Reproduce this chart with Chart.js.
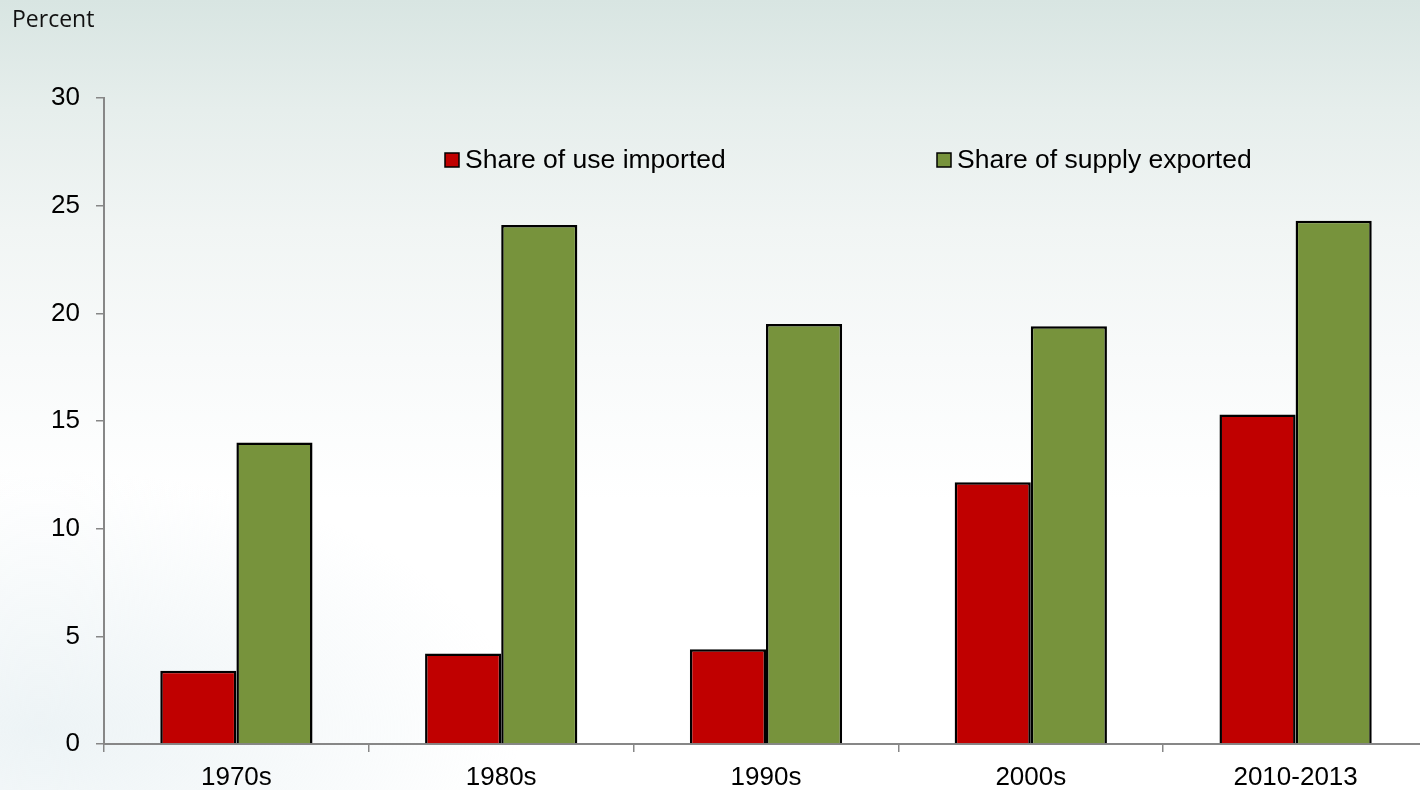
<!DOCTYPE html>
<html>
<head>
<meta charset="utf-8">
<script src="https://cdn.jsdelivr.net/npm/chart.js@4"></script>
<style>
    html, body {
        margin: 0;
        padding: 0;
        width: 1420px;
        height: 790px;
        overflow: hidden;
    }
    body {
        background:
            radial-gradient(ellipse 480px 260px at 40px 730px, rgba(222, 234, 238, 0.55), rgba(222, 234, 238, 0) 100%),
            linear-gradient(to bottom, #d8e5e2 0px, #e6eeec 110px, #f1f5f4 230px, #f8fafa 360px, #ffffff 500px, #ffffff 790px);
    }
    #wrap {
        position: absolute;
        left: 0;
        top: 0;
        width: 1428px;
        height: 790px;
    }
</style>
</head>
<body>
<div id="wrap"><canvas id="chart"></canvas></div>
<script>
// Data
const categories = ['1970s', '1980s', '1990s', '2000s', '2010-2013'];
const useImported = [3.4, 4.2, 4.4, 12.15, 15.3];
const supplyExported = [14.0, 24.1, 19.5, 19.4, 24.3];
const seriesNames = ['Share of use imported', 'Share of supply exported'];
const yTicks = [0, 5, 10, 15, 20, 25, 30];

const RED = '#c00000';
const GREEN = '#77933c';
const AXIS_GREY = '#878787';
const TEXT_FONT = '"Liberation Sans", Arial, sans-serif';

// Legend inside the plot + "Percent" caption
const overlayPlugin = {
    id: 'overlay',
    afterDraw(chart) {
        const ctx = chart.ctx;
        const area = chart.chartArea;
        ctx.save();

        ctx.fillStyle = '#111';
        ctx.font = '23px "Open Sans", sans-serif';
        ctx.textAlign = 'left';
        ctx.textBaseline = 'middle';
        ctx.fillText('Percent', 12, 20);

        const items = [
            { label: seriesNames[0], color: RED, x: area.left + 341 },
            { label: seriesNames[1], color: GREEN, x: area.left + 833 }
        ];
        const cy = area.top + 62;
        ctx.font = '26.5px ' + TEXT_FONT;
        items.forEach(item => {
            ctx.fillStyle = item.color;
            ctx.fillRect(item.x, cy - 7, 14, 14);
            ctx.lineWidth = 1.5;
            ctx.strokeStyle = '#000';
            ctx.strokeRect(item.x, cy - 7, 14, 14);
            ctx.fillStyle = '#000';
            ctx.fillText(item.label, item.x + 20, cy + 1);
        });
        ctx.restore();
    }
};

const ctx = document.getElementById('chart').getContext('2d');
new Chart(ctx, {
    type: 'bar',
    data: {
        labels: categories,
        datasets: [
            {
                label: seriesNames[0],
                data: useImported,
                backgroundColor: RED,
                borderColor: '#000',
                borderWidth: 2.5,
                borderSkipped: 'bottom'
            },
            {
                label: seriesNames[1],
                data: supplyExported,
                backgroundColor: GREEN,
                borderColor: '#000',
                borderWidth: 2.5,
                borderSkipped: 'bottom'
            }
        ]
    },
    options: {
        responsive: true,
        maintainAspectRatio: false,
        animation: false,
        events: [],
        layout: {
            padding: { top: 98, right: 0, bottom: 0, left: 0 }
        },
        datasets: {
            bar: {
                categoryPercentage: 0.575,
                barPercentage: 1
            }
        },
        plugins: {
            legend: { display: false },
            tooltip: { enabled: false }
        },
        scales: {
            x: {
                offset: true,
                afterFit: scale => { scale.height = 46; },
                border: { color: AXIS_GREY, width: 2 },
                grid: {
                    offset: true,
                    drawOnChartArea: false,
                    drawTicks: true,
                    tickLength: 8,
                    color: AXIS_GREY,
                    lineWidth: 1.5
                },
                ticks: {
                    color: '#000',
                    padding: 10,
                    font: { family: TEXT_FONT, size: 26 }
                }
            },
            y: {
                min: 0,
                max: 30,
                afterFit: scale => { scale.width = 104; },
                afterBuildTicks: scale => {
                    scale.ticks = yTicks.map(v => ({ value: v }));
                },
                border: { color: AXIS_GREY, width: 2 },
                grid: {
                    drawOnChartArea: false,
                    drawTicks: true,
                    tickLength: 8,
                    color: AXIS_GREY,
                    lineWidth: 1.5
                },
                ticks: {
                    color: '#000',
                    padding: 16,
                    font: { family: TEXT_FONT, size: 26 }
                }
            }
        }
    },
    plugins: [overlayPlugin]
});
</script>
</body>
</html>
